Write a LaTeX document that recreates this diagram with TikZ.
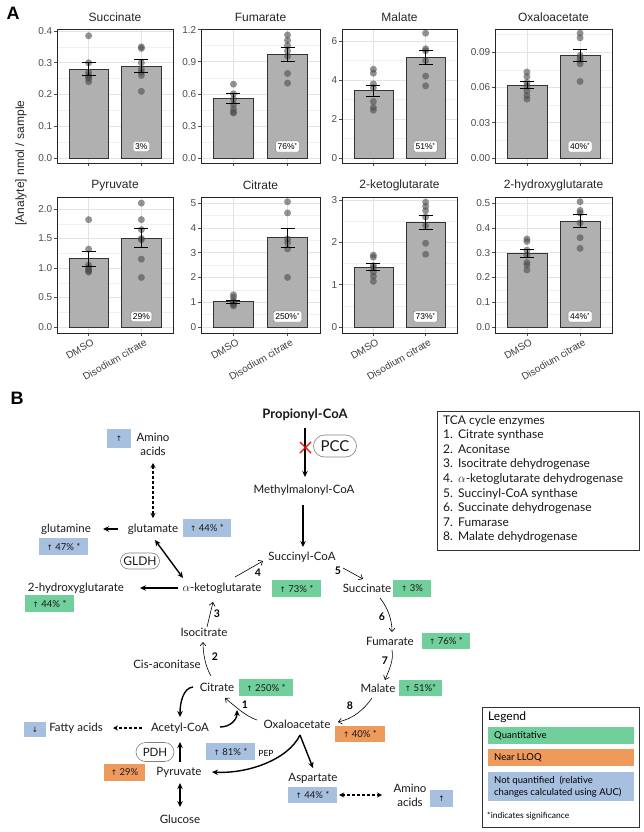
\documentclass[tikz,border=0pt]{standalone}
\usepackage{fontspec}
\setmainfont{Lato}
\newfontfamily\arial{Liberation Sans}
\newfontfamily\dv{DejaVu Sans}
\usetikzlibrary{arrows.meta,calc,shapes.misc}
\definecolor{qgreen}{RGB}{112,207,155}
\definecolor{qorange}{RGB}{238,154,92}
\definecolor{qblue}{RGB}{167,192,223}
\definecolor{barfill}{RGB}{176,176,176}
\newcommand\upar{{\dv\fontsize{7.5}{8}\selectfont ↑}}
\newcommand\dnar{{\dv\fontsize{7.5}{8}\selectfont ↓}}
\newcommand\panelframe[7]{%
  \xdef\PX{#1}\xdef\PXb{#2}\xdef\PYt{#3}\xdef\PYb{#4}\xdef\PZ{#5}\xdef\PS{#6}%
  \pgfmathsetmacro\tmpa{#1+0.2727*(#2-#1)}\xdef\PcA{\tmpa}%
  \pgfmathsetmacro\tmpb{#1+0.7273*(#2-#1)}\xdef\PcB{\tmpb}%
  \pgfmathsetmacro\tmpc{0.17*(#2-#1)}\xdef\Phw{\tmpc}%
  \fill[white] (#1,#3) rectangle (#2,#4);
  \node[paneltitle] at ({(#1+#2)/2},{#3-11.5}) {#7};
  \draw[tickline] (\PcA,#4) -- ++(0,3) (\PcB,#4) -- ++(0,3);
}
\newcommand\yticks[2]{%
  \foreach \v in {#2} {\draw[minorgrid] (\PX,{\PZ-\v*\PS}) -- (\PXb,{\PZ-\v*\PS});}
  \foreach \v/\l in {#1} {\draw[majorgrid] (\PX,{\PZ-\v*\PS}) -- (\PXb,{\PZ-\v*\PS});
    \draw[tickline] (\PX,{\PZ-\v*\PS}) -- ++(-3,0) node[ticklab] {\l};}
  \draw[majorgrid] (\PcA,\PYt) -- (\PcA,\PYb) (\PcB,\PYt) -- (\PcB,\PYb);
}
\newcommand\bars[9]{%
  \draw[barst] ({\PcA-\Phw},\PZ) rectangle ({\PcA+\Phw},{\PZ-#1*\PS});
  \draw[barst] ({\PcB-\Phw},\PZ) rectangle ({\PcB+\Phw},{\PZ-#5*\PS});
  \foreach \p in {#4} {\fill[ptst] (\PcA,{\PZ-\p*\PS}) circle (3.5);}
  \foreach \p in {#8} {\fill[ptst] (\PcB,{\PZ-\p*\PS}) circle (3.5);}
  \draw[errst] (\PcA,{\PZ-#2*\PS}) -- (\PcA,{\PZ-#3*\PS})
     ({\PcA-7},{\PZ-#2*\PS}) -- ({\PcA+7},{\PZ-#2*\PS})
     ({\PcA-7},{\PZ-#3*\PS}) -- ({\PcA+7},{\PZ-#3*\PS});
  \draw[errst] (\PcB,{\PZ-#6*\PS}) -- (\PcB,{\PZ-#7*\PS})
     ({\PcB-7},{\PZ-#6*\PS}) -- ({\PcB+7},{\PZ-#6*\PS})
     ({\PcB-7},{\PZ-#7*\PS}) -- ({\PcB+7},{\PZ-#7*\PS});
  \draw[panelborder] (\PX,\PYt) rectangle (\PXb,\PYb);
  \node[pctbox] at (\PcB,{\PYb-16.5}) {#9};
}
\newcommand\xlabs{%
  \node[xlab] at ({\PcA+3},{\PYb+4}) {DMSO};
  \node[xlab] at ({\PcB+3},{\PYb+4}) {Disodium citrate};
}
\begin{document}
\begin{tikzpicture}[x=1pt,y=-1pt,
  paneltitle/.style={font=\arial\fontsize{12}{14}\selectfont, text=black!85},
  ticklab/.style={anchor=east, font=\arial\fontsize{10}{12}\selectfont, text=black!70, inner sep=1.5pt},
  tickline/.style={line width=0.5pt, black!70},
  majorgrid/.style={line width=0.5pt, black!11},
  minorgrid/.style={line width=0.3pt, black!6},
  panelborder/.style={line width=0.8pt, black!85},
  barst/.style={fill=barfill, draw=black!80, line width=0.6pt},
  ptst/.style={fill=black!70, fill opacity=0.6},
  errst/.style={line width=0.7pt, black},
  pctbox/.style={draw=black!50, fill=white, rounded corners=1.5pt, font=\arial\fontsize{8.5}{10}\selectfont, inner sep=2pt},
  xlab/.style={anchor=north east, rotate=30, font=\arial\fontsize{10}{12}\selectfont, text=black!75, inner sep=1pt},
  met/.style={font=\fontsize{11.5}{13.5}\selectfont, inner sep=0pt, text=black!90, align=center},
  vbox/.style={font=\fontsize{9.5}{10}\selectfont, inner sep=0pt, text=black!90},
  enz/.style={rounded rectangle, draw=black!50, line width=0.6pt, inner xsep=1pt, inner ysep=0pt, text=black!90},
  numl/.style={font=\bfseries\fontsize{10.5}{12}\selectfont, inner sep=0pt},
  thk/.style={line width=1.4pt, -{Stealth[length=6pt,width=5.5pt]}},
  thkd/.style={line width=1.4pt, {Stealth[length=6pt,width=5.5pt]}-{Stealth[length=6pt,width=5.5pt]}},
  dsh/.style={line width=1.1pt, dash pattern=on 3pt off 2pt},
  thn/.style={line width=0.6pt, -{Straight Barb[length=3.5pt,width=6pt]}}
]
\useasboundingbox (0,0) rectangle (644,832);
\fill[white] (0,0) rectangle (644,832);

% ---------- Panel A ----------
\node[font=\arial\bfseries\fontsize{18}{20}\selectfont, inner sep=0] (labA) at (13,13) {A};
\node[font=\arial\fontsize{12}{14}\selectfont, rotate=90, text=black!85] (ylab) at (21,163) {[Analyte] nmol / sample};

\panelframe{57}{173}{29}{163}{158}{317.5}{Succinate}
\yticks{0/0.0,0.1/0.1,0.2/0.2,0.3/0.3,0.4/0.4}{0.05,0.15,0.25,0.35}
\bars{0.28}{0.26}{0.30}{0.385,0.30,0.27,0.26,0.255,0.25,0.24}{0.29}{0.27}{0.31}{0.35,0.345,0.30,0.28,0.27,0.26,0.21}{3\%}

\panelframe{201}{320}{29}{163}{158}{107}{Fumarate}
\yticks{0/0.0,0.3/0.3,0.6/0.6,0.9/0.9,1.2/1.2}{0.15,0.45,0.75,1.05}
\bars{0.555}{0.51}{0.60}{0.69,0.60,0.55,0.50,0.46,0.43,0.42}{0.965}{0.90}{1.03}{1.15,1.10,1.05,1.00,0.95,0.79,0.70}{76\%\textsuperscript{*}}

\panelframe{342}{457}{29}{163}{158}{19.5}{Malate}
\yticks{0/0,2/2,4/4,6/6}{1,3,5}
\bars{3.45}{3.15}{3.75}{4.55,4.35,3.8,3.6,2.9,2.6,2.45}{5.15}{4.8}{5.5}{6.4,5.6,5.5,5.0,4.2,3.7}{51\%\textsuperscript{*}}

\panelframe{495}{612}{29}{163}{158}{1178}{Oxaloacetate}
\yticks{0/0.00,0.03/0.03,0.06/0.06,0.09/0.09}{0.015,0.045,0.075,0.105}
\bars{0.062}{0.059}{0.065}{0.073,0.069,0.064,0.061,0.057,0.053,0.050}{0.087}{0.082}{0.092}{0.106,0.102,0.087,0.085,0.083,0.080,0.065}{40\%\textsuperscript{*}}

\panelframe{57}{173}{197}{333}{327}{59}{Pyruvate}
\yticks{0/0.0,0.5/0.5,1/1.0,1.5/1.5,2/2.0}{0.25,0.75,1.25,1.75}
\bars{1.16}{1.03}{1.28}{1.82,1.32,1.05,1.0,0.97,0.95,0.93}{1.51}{1.35}{1.67}{2.1,1.82,1.65,1.5,1.48,1.15,0.84}{29\%}
\xlabs

\panelframe{201}{320}{197}{333}{327}{24.8}{Citrate}
\yticks{0/0,1/1,2/2,3/3,4/4,5/5}{0.5,1.5,2.5,3.5,4.5}
\bars{1.02}{0.96}{1.08}{1.3,1.2,1.05,1.0,0.95,0.9,0.85}{3.6}{3.22}{3.98}{5.05,4.6,3.55,3.4,3.15,2.0}{250\%\textsuperscript{*}}
\xlabs

\panelframe{342}{457}{197}{333}{327}{42.3}{2-ketoglutarate}
\yticks{0/0,1/1,2/2,3/3}{0.5,1.5,2.5}
\bars{1.42}{1.33}{1.51}{1.7,1.65,1.45,1.4,1.3,1.2,1.08}{2.47}{2.3}{2.65}{2.95,2.85,2.75,2.6,2.4,1.98,1.72}{73\%\textsuperscript{*}}
\xlabs

\panelframe{495}{612}{197}{333}{327}{248}{2-hydroxyglutarate}
\yticks{0/0.0,0.1/0.1,0.2/0.2,0.3/0.3,0.4/0.4,0.5/0.5}{0.05,0.15,0.25,0.35,0.45}
\bars{0.297}{0.28}{0.315}{0.355,0.345,0.31,0.29,0.26,0.25,0.23}{0.427}{0.40}{0.453}{0.505,0.47,0.46,0.42,0.36,0.317}{44\%\textsuperscript{*}}
\xlabs

% ---------- Panel B ----------
\node[font=\arial\bfseries\fontsize{18}{20}\selectfont, inner sep=0] (labB) at (17,398) {B};

% metabolites
\node[met, font=\bfseries\fontsize{13}{15}\selectfont] (prop) at (305,415) {Propionyl-CoA};
\node[enz, font=\fontsize{15}{17}\selectfont, minimum width=45, minimum height=22] (pcc) at (335,446) {PCC};
\node[met] (methyl) at (304,490) {Methylmalonyl-CoA};
\node[met] (succoa) at (302,557) {Succinyl-CoA};
\node[met] (akg) at (222,588) {$\alpha$-ketoglutarate};
\node[met] (succinate) at (367,588) {Succinate};
\node[met] (fumarate) at (390,641) {Fumarate};
\node[met] (malate) at (378,688) {Malate};
\node[met] (oaa) at (297,724) {Oxaloacetate};
\node[met] (citrate) at (217,687) {Citrate};
\node[met] (isocitrate) at (204,632) {Isocitrate};
\node[met] (cisacon) at (167,664) {Cis-aconitase};
\node[met] (acetyl) at (180,728) {Acetyl-CoA};
\node[met] (fatty) at (76,728) {Fatty acids};
\node[met] (pyruvate) at (179,772) {Pyruvate};
\node[met] (glucose) at (180,819) {Glucose};
\node[met] (aspartate) at (313,778) {Aspartate};
\node[met, font=\fontsize{11.5}{14}\selectfont] (aa2) at (410,795) {Amino\\acids};
\node[met] (glutamate) at (153,529) {glutamate};
\node[met] (glutamine) at (66,529) {glutamine};
\node[met, font=\fontsize{11.5}{14}\selectfont] (aa1) at (153,444) {Amino\\acids};
\node[met] (hg2) at (76,588) {2-hydroxyglutarate};
\node[enz, font=\fontsize{12}{14}\selectfont, minimum width=41, minimum height=16] (gldh) at (140,561) {GLDH};
\node[enz, font=\fontsize{11.5}{13}\selectfont, minimum width=40, minimum height=19] (pdh) at (155,752) {PDH};
\node[font=\fontsize{8.5}{10}\selectfont, inner sep=0] (pep) at (266,753) {PEP};

% value boxes
\node[vbox, fill=qblue, minimum width=24, minimum height=19] (vaa1) at (119,438.5) {\upar};
\node[vbox, fill=qblue, minimum width=48, minimum height=18] (vglu) at (207,528) {\upar\ 44\% *};
\node[vbox, fill=qblue, minimum width=49, minimum height=17] (vgln) at (63.5,546.5) {\upar\ 47\% *};
\node[vbox, fill=qgreen, minimum width=49, minimum height=17] (vhg) at (49.5,603.5) {\upar\ 44\% *};
\node[vbox, fill=qgreen, minimum width=49, minimum height=17] (vakg) at (296.5,588.5) {\upar\ 73\% *};
\node[vbox, fill=qgreen, minimum width=38, minimum height=17] (vsuc) at (412,588.5) {\upar\ 3\%};
\node[vbox, fill=qgreen, minimum width=48, minimum height=16] (vfum) at (446,640.5) {\upar\ 76\% *};
\node[vbox, fill=qgreen, minimum width=43, minimum height=16] (vmal) at (420.5,688) {\upar\ 51\%*};
\node[vbox, fill=qorange, minimum width=50, minimum height=16] (voaa) at (360,734) {\upar\ 40\% *};
\node[vbox, fill=qgreen, minimum width=54, minimum height=17] (vcit) at (266,687.5) {\upar\ 250\% *};
\node[vbox, fill=qblue, minimum width=22, minimum height=15] (vfat) at (35,729.5) {\dnar};
\node[vbox, fill=qblue, minimum width=49, minimum height=17] (vpep) at (230.5,751.5) {\upar\ 81\% *};
\node[vbox, fill=qorange, minimum width=41, minimum height=17] (vpyr) at (124.5,772.5) {\upar\ 29\%};
\node[vbox, fill=qblue, minimum width=49, minimum height=16] (vasp) at (312.5,795) {\upar\ 44\% *};
\node[vbox, fill=qblue, minimum width=23, minimum height=17] (vaa2) at (441.5,798.5) {\upar};

% connectors
\draw[thk] ($(prop)+(0,13)$) -- ($(methyl)+(1,-13)$);
\draw[red, line width=1.3pt] ($(prop)+(-5,27)$) -- ($(prop)+(6,38)$) ($(prop)+(-5,38)$) -- ($(prop)+(6,27)$);
\draw[thk] ($(methyl)+(-1,15)$) -- ($(succoa)+(1,-10)$);
\draw[thn] ($(akg)+(13,-11)$) -- ($(succoa)+(-39,4)$);
\node[numl] (n4) at ($(succoa)+(-44,16)$) {4};
\draw[thn] ($(succoa)+(41,11)$) -- ($(succinate)+(-4,-9)$);
\node[numl] (n5) at ($(succoa)+(36,14)$) {5};
\draw[thn] ($(succinate)+(13,10)$) .. controls +(8,10) and +(0,-12) .. ($(fumarate)+(2,-9)$);
\node[numl] (n6) at ($(succinate)+(15,29)$) {6};
\draw[thn] ($(fumarate)+(2,9)$) .. controls +(2,10) and +(4,-10) .. ($(malate)+(7,-8)$);
\node[numl] (n7) at ($(fumarate)+(-5,20)$) {7};
\draw[thn] ($(malate)+(-6,10)$) .. controls +(-8,12) and +(14,-3) .. ($(oaa)+(41,-2)$);
\node[numl] (n8) at ($(malate)+(-28,18)$) {8};
\draw[thn] ($(oaa)+(-40,-4)$) .. controls +(-12,-4) and +(10,8) .. ($(citrate)+(8,11)$);
\node[numl] (n1) at ($(citrate)+(28,18)$) {1};
\draw[thn] ($(citrate)+(-6,-11)$) .. controls +(-6,-10) and +(0,10) .. ($(isocitrate)+(-1,10)$);
\node[numl] (n2) at ($(isocitrate)+(11,25)$) {2};
\draw[thn] ($(isocitrate)+(3,-5)$) -- ($(akg)+(-9,14)$);
\node[numl] (n3) at ($(akg)+(-5,26)$) {3};
\draw[thk] ($(citrate)+(-24,0)$) .. controls +(-10,1) and +(0,-14) .. ($(acetyl)+(0,-11)$);
\draw[thk] ($(acetyl)+(40,-1)$) .. controls +(10,0) and +(0,10) .. ($(citrate)+(20,23)$);
\draw[thk] ($(pyruvate)+(1,-10)$) -- ($(acetyl)+(0,14)$);
\draw[thkd] ($(pyruvate)+(1,11)$) -- ($(glucose)+(0,-12)$);
\draw[dsh, -{Stealth[length=5pt,width=5pt]}] ($(acetyl)+(-38,0)$) -- ($(fatty)+(37,0)$);
\draw[thk] ($(oaa)+(3,11)$) .. controls +(-12,25) and +(35,2) .. ($(pyruvate)+(33,0)$);
\draw[thk] ($(oaa)+(3,11)$) -- ($(aspartate)+(0,-10)$);
\draw[dsh, {Stealth[length=5pt,width=5pt]}-{Stealth[length=5pt,width=5pt]}] ($(vasp.east)+(2,0)$) -- ($(aa2)+(-28,0)$);
\draw[dsh, {Stealth[length=5pt,width=5pt]}-{Stealth[length=5pt,width=5pt]}] ($(aa1)+(0,19)$) -- ($(glutamate)+(0,-11)$);
\draw[thk] ($(glutamate)+(-35,0)$) -- ($(glutamine)+(37,0)$);
\draw[thkd] ($(glutamate)+(2,11)$) -- ($(akg)+(-39,-10)$);
\draw[thk] ($(akg)+(-44,0)$) -- ($(hg2)+(64,0)$);

% TCA enzymes box
\node[draw=black!80, line width=0.8pt, anchor=north west, minimum width=202, minimum height=139, inner sep=0] (tcabox) at (437,411) {};
\node[anchor=north west, align=left, font=\fontsize{12}{14.6}\selectfont, inner sep=0, text=black!90] (tcatext) at (443,415) {TCA cycle enzymes\\
\makebox[15pt][l]{1.}Citrate synthase\\
\makebox[15pt][l]{2.}Aconitase\\
\makebox[15pt][l]{3.}Isocitrate dehydrogenase\\
\makebox[15pt][l]{4.}$\alpha$-ketoglutarate dehydrogenase\\
\makebox[15pt][l]{5.}Succinyl-CoA synthase\\
\makebox[15pt][l]{6.}Succinate dehydrogenase\\
\makebox[15pt][l]{7.}Fumarase\\
\makebox[15pt][l]{8.}Malate dehydrogenase};

% Legend
\node[draw=black!80, line width=0.8pt, anchor=north west, minimum width=157, minimum height=120, inner sep=0] (legbox) at (482,707) {};
\node[anchor=west, font=\fontsize{12}{14}\selectfont, inner sep=0] (legtitle) at (488,717) {Legend};
\node[fill=qgreen, anchor=north west, minimum width=146, minimum height=17, inner sep=0] (lq) at (488,727) {};
\node[anchor=west, font=\fontsize{9.5}{11}\selectfont, inner sep=0] (lqt) at (494,735.5) {Quantitative};
\node[fill=qorange, anchor=north west, minimum width=146, minimum height=17, inner sep=0] (lo) at (488,749) {};
\node[anchor=west, font=\fontsize{9.5}{11}\selectfont, inner sep=0] (lot) at (494,757.5) {Near LLOQ};
\node[fill=qblue, anchor=north west, minimum width=146, minimum height=29, inner sep=0] (lb) at (488,772) {};
\node[anchor=west, align=left, font=\fontsize{9.5}{11.5}\selectfont, inner sep=0] (lbt) at (494,786.5) {Not quantified~ (relative\\changes calculated using AUC)};
\node[anchor=west, font=\fontsize{8.5}{10}\selectfont, inner sep=0] (lsig) at (487,816) {*indicates significance};
\end{tikzpicture}
\end{document}
